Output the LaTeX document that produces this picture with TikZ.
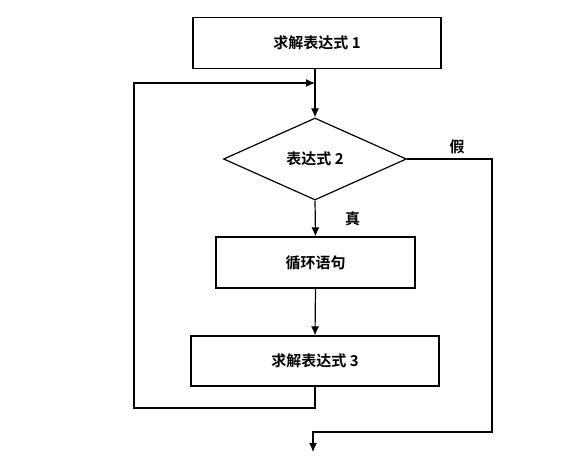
\documentclass[tikz,border=0pt]{standalone}
\usepackage{fontspec}
\newfontfamily\cjk[BoldFont=* Bold]{Noto Sans CJK SC}
\usetikzlibrary{shapes.geometric,arrows.meta}
\tikzset{
  stepbox/.style={draw, line width=1.2pt, rectangle, minimum height=51pt},
  testbox/.style={draw, line width=1.2pt, diamond, aspect=2.2, minimum width=183pt, minimum height=82pt, inner sep=0pt},
  flow/.style={line width=1.2pt, -{Latex[length=9pt,width=8pt]}},
  link/.style={line width=1.2pt}
}
\begin{document}
\begin{tikzpicture}[x=1pt, y=-1pt, font=\cjk\bfseries\fontsize{15}{17}\selectfont]
\useasboundingbox (0,0) rectangle (567,466);

\node[stepbox, minimum width=248pt] (expr1) at (317,43) {求解表达式 1};
\node[testbox] (expr2) at (315,159) {表达式 2};
\node[stepbox, minimum width=199pt] (body) at (315.5,262.5) {循环语句};
\node[stepbox, minimum width=248pt, minimum height=50pt] (expr3) at (315,361) {求解表达式 3};

\coordinate (join) at (315,83);
\coordinate (back) at (134,408);
\coordinate (side) at (492,432);
\coordinate (out) at (313,452);

\draw[flow] (expr1.south -| join) -- (expr2.north);
\draw[flow] (expr2.south) -- (body.north) node[pos=0.5, right=26pt] {真};
\draw[flow] (body.south) -- (expr3.north);
\draw[flow] (expr3.south) |- (back) |- (join);
\draw[flow] (expr2.east) -| (side) -| (out);
\node (false) at (457,147) {假};
\end{tikzpicture}
\end{document}
